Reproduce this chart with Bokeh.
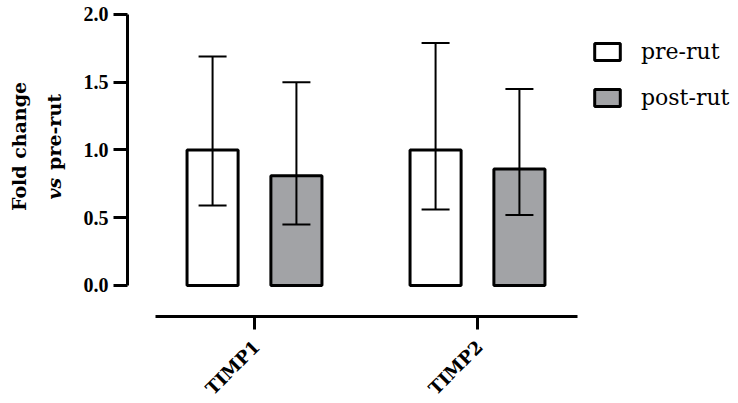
import math
from bokeh.plotting import figure
from bokeh.layouts import row, column
from bokeh.models import (FixedTicker, Whisker, TeeHead, ColumnDataSource, Legend,
                          LegendItem)
from bokeh.core.properties import value
from bokeh.embed import file_html
from bokeh.resources import INLINE

# ---- data ----
categories = ["TIMP1", "TIMP2"]
pre_mean = [1.00, 1.00]
pre_lower = [0.59, 0.56]
pre_upper = [1.69, 1.79]
post_mean = [0.81, 0.86]
post_lower = [0.45, 0.52]
post_upper = [1.50, 1.45]
y_ticks = [0.0, 0.5, 1.0, 1.5, 2.0]
y_tick_labels = ["0.0", "0.5", "1.0", "1.5", "2.0"]
series_names = ["pre-rut", "post-rut"]
y_title = ["Fold change", "vs", "pre-rut"]

# ---- layout constants ----
GREY = "#a2a3a6"
OFF = 0.188
BW = 0.229
xc = [i + 1 for i in range(len(categories))]
X0, X1 = 0.4305, 3.1704
Y0, Y1 = -0.2288, 2.1033
TW = 72      # width of the y-title strip
PH = 330     # height of the main plot
BH = 403 - PH

# ---- y-title strip ----
t = figure(width=TW, height=403, output_backend="svg", toolbar_location=None,
           x_range=(0, TW), y_range=(0, 403), x_axis_location=None,
           y_axis_location=None, min_border=0)
t.outline_line_color = None
t.grid.visible = False
tfont = dict(text_font=value("DejaVu Serif"), text_font_size="19px",
             text_color="black", angle=math.pi / 2, text_baseline="middle")
t.text(x=[18], y=[257], text=[y_title[0]], text_align="center",
       text_font_style="bold", **tfont)
t.text(x=[53], y=[204], text=[y_title[1]], text_align="left",
       text_font_style="bold italic", **tfont)
t.text(x=[53], y=[233.6], text=[y_title[2]], text_align="left",
       text_font_style="bold", **tfont)

# ---- main plot ----
p = figure(width=738 - TW, height=PH, output_backend="svg", toolbar_location=None,
           x_range=(X0, X1), y_range=(Y0, Y1),
           min_border_left=127 - TW, min_border_bottom=PH - 316, min_border_top=0,
           min_border_right=0)
p.outline_line_color = None
p.grid.visible = False

src_pre = ColumnDataSource(dict(x=[c - OFF for c in xc], top=pre_mean,
                                lo=pre_lower, hi=pre_upper))
src_post = ColumnDataSource(dict(x=[c + OFF for c in xc], top=post_mean,
                                 lo=post_lower, hi=post_upper))

r_pre = p.vbar(x="x", top="top", bottom=0, width=BW, source=src_pre,
               fill_color="white", line_color="black", line_width=3)
r_post = p.vbar(x="x", top="top", bottom=0, width=BW, source=src_post,
                fill_color=GREY, line_color="black", line_width=3)

for src in (src_pre, src_post):
    w = Whisker(base="x", lower="lo", upper="hi", source=src, level="overlay",
                line_color="black", line_width=2,
                upper_head=TeeHead(size=28, line_width=2, line_color="black"),
                lower_head=TeeHead(size=28, line_width=2, line_color="black"))
    p.add_layout(w)

# y axis
ya = p.yaxis[0]
ya.bounds = (0, 2)
ya.ticker = FixedTicker(ticks=y_ticks)
ya.major_label_overrides = {t_: l for t_, l in zip(y_ticks, y_tick_labels)}
ya.minor_tick_line_color = None
ya.axis_line_width = 3
ya.major_tick_line_width = 3
ya.major_tick_out = 14
ya.major_tick_in = 0
ya.major_label_standoff = 5
ya.major_label_text_font = "Liberation Serif"
ya.major_label_text_font_style = "bold"
ya.major_label_text_font_size = "20px"
ya.major_label_text_color = "black"

# x axis (line + ticks; category names drawn in the strip below)
xa = p.xaxis[0]
xa.bounds = (0.556, 2.449)
xa.ticker = FixedTicker(ticks=xc)
xa.major_label_text_font_size = "0px"
xa.major_label_text_color = None
xa.major_label_standoff = 0
xa.minor_tick_line_color = None
xa.axis_line_width = 3
xa.major_tick_line_width = 3
xa.major_tick_out = 13
xa.major_tick_in = 0

# legends (one per item for exact placement)
for r, name, vy in ((r_pre, series_names[0], 252.4), (r_post, series_names[1], 206.4)):
    leg = Legend(items=[LegendItem(label=name, renderers=[r])], location=(464, vy),
                 glyph_width=32, glyph_height=21, label_standoff=18,
                 padding=0, margin=0, border_line_color=None,
                 background_fill_alpha=0, label_text_font="DejaVu Serif",
                 label_text_font_size="22px", label_text_color="black",
                 label_height=21)
    p.add_layout(leg)

# ---- category labels strip ----
b = figure(width=738 - TW, height=BH, output_backend="svg", toolbar_location=None,
           x_range=p.x_range, y_range=(0, BH), x_axis_location=None,
           y_axis_location=None, min_border_left=127 - TW, min_border_right=0,
           min_border_top=0, min_border_bottom=0)
b.outline_line_color = None
b.grid.visible = False
b.text(x=xc, y=[BH - 13] * len(xc), text=categories, angle=math.pi / 4,
       x_offset=2, text_align="right", text_baseline="middle",
       text_font=value("DejaVu Serif"), text_font_style="bold",
       text_font_size="18px", text_color="black")

open("out.html", "w").write(file_html(row(t, column(p, b)), INLINE))
